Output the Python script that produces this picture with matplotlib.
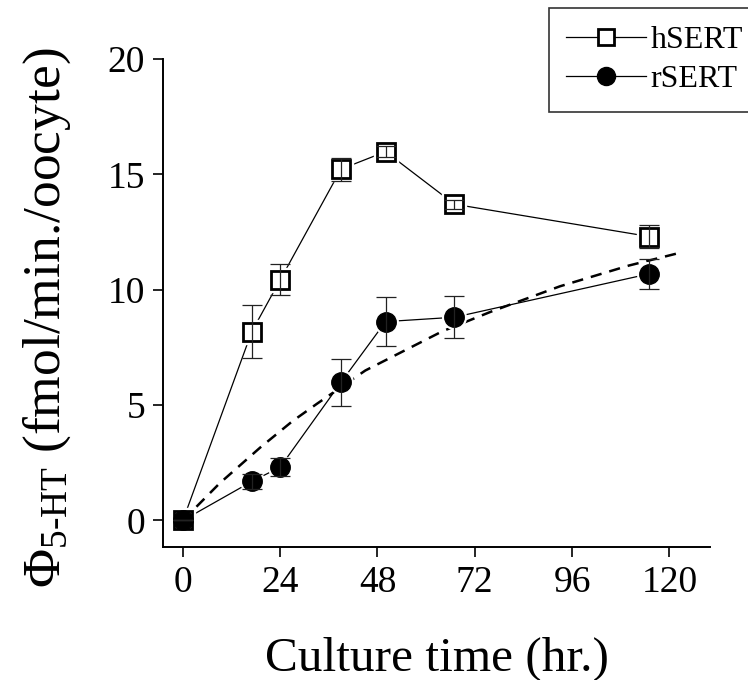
import matplotlib
matplotlib.use("Agg")
import matplotlib.pyplot as plt
from matplotlib.lines import Line2D

plt.rcParams['font.family'] = ['Liberation Serif', 'DejaVu Serif']
plt.rcParams['mathtext.fontset'] = 'custom'
plt.rcParams['mathtext.rm'] = 'Liberation Serif'
plt.rcParams['mathtext.it'] = 'Liberation Serif:italic'

# culture time (hr.) and uptake, mean +/- error
hsert_t = [0, 17, 24, 39, 50, 67, 115]
hsert_v = [0, 8.19, 10.43, 15.23, 15.99, 13.71, 12.31]
hsert_err = [0, 1.13, 0.67, 0.50, 0.24, 0.20, 0.49]

rsert_t = [0, 17, 24, 39, 50, 67, 115]
rsert_v = [0, 1.69, 2.31, 5.99, 8.62, 8.81, 10.69]
rsert_err = [0, 0.33, 0.40, 1.01, 1.05, 0.90, 0.64]

# fitted curve for rSERT
fit_t = [0, 9, 19, 27, 33, 45, 64, 76, 93, 110, 122.5]
fit_v = [0, 1.6, 3.15, 4.3, 5.05, 6.5, 8.2, 9.05, 10.15, 11.05, 11.6]

xticks = [0, 24, 48, 72, 96, 120]
yticks = [0, 5, 10, 15, 20]

fig = plt.figure(figsize=(7.48, 6.8), dpi=100)
ax = fig.add_axes([0.218, 0.195, 0.731, 0.718])

ms = 13

# dashed fit
ax.plot(fit_t, fit_v, color='black', lw=1.8, ls=(0, (4.5, 3.2)), zorder=2)

# thin connecting lines
ax.plot(hsert_t, hsert_v, color='black', lw=0.9, zorder=1)
ax.plot(rsert_t, rsert_v, color='black', lw=0.9, zorder=1)

# white halo so the lines stop short of the markers
ax.plot(hsert_t, hsert_v, ls='none', marker='s', ms=ms + 4, mfc='white', mec='white', zorder=3)
ax.plot(rsert_t, rsert_v, ls='none', marker='o', ms=ms + 4, mfc='white', mec='white', zorder=3)

ax.plot(hsert_t, hsert_v, ls='none', marker='s', ms=ms, mfc='white', mec='black', mew=2.0, zorder=4)
ax.plot(rsert_t, rsert_v, ls='none', marker='o', ms=ms + 1, mfc='black', mec='black', zorder=5)

ax.errorbar(hsert_t, hsert_v, yerr=hsert_err, fmt='none', ecolor='#222222', elinewidth=0.9,
            capsize=7.5, capthick=0.9, zorder=6)
ax.errorbar(rsert_t, rsert_v, yerr=rsert_err, fmt='none', ecolor='#222222', elinewidth=0.9,
            capsize=7.5, capthick=0.9, zorder=6)

ax.set_xlim(-4.9, 130)
ax.set_ylim(-1.17, 20)
ax.set_xticks(xticks)
ax.set_yticks(yticks)
ax.tick_params(direction='out', length=7, width=1.2, labelsize=27, pad=6)
for s in ['top', 'right']:
    ax.spines[s].set_visible(False)
for s in ['left', 'bottom']:
    ax.spines[s].set_linewidth(1.4)

ax.set_xlabel('Culture time (hr.)', fontsize=35.5)
ax.xaxis.set_label_coords(0.5, -0.182)
ax.set_ylabel(r'$\Phi_{\mathrm{5\text{-}HT}}$ (fmol/min./oocyte)', fontsize=38.5)
ax.yaxis.set_label_coords(-0.165, 0.47)

handles = [
    Line2D([], [], color='black', lw=0.9, marker='s', ms=12, mfc='white', mec='black', mew=2.0),
    Line2D([], [], color='black', lw=0.9, marker='o', ms=13, mfc='black', mec='black'),
]
leg = fig.legend(handles, ['hSERT', 'rSERT'], loc='upper right', bbox_to_anchor=(1.017, 0.988),
                 fontsize=23, frameon=True, fancybox=False, edgecolor='black', handlelength=2.5,
                 handletextpad=0.15, borderpad=0.55, labelspacing=0.3, borderaxespad=0)
leg.get_frame().set_linewidth(1.2)

fig.savefig('out.png', dpi=100)
